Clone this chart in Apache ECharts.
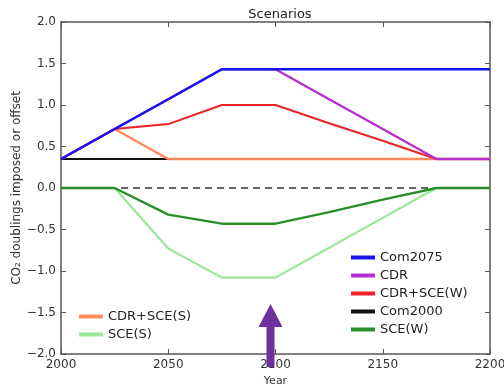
<!DOCTYPE html>
<html>
<head>
<meta charset="UTF-8">
<script src="https://cdn.jsdelivr.net/npm/echarts@6/dist/echarts.min.js"></script>
<style>
  body { margin: 0; background: #fff; }
  #root { width: 504px; height: 384px; }
</style>
</head>
<body>
<div id="root"></div>
<script>
var years = [2000, 2025, 2050, 2075, 2100, 2125, 2150, 2175, 2200];

var com2075 = [0.35, 0.71, 1.07, 1.43, 1.43, 1.43, 1.43, 1.43, 1.43];
var cdr = [0.35, 0.71, 1.07, 1.43, 1.43, 1.07, 0.71, 0.35, 0.35];
var cdrSceW = [0.35, 0.71, 0.77, 1.0, 1.0, 0.78, 0.57, 0.35, null];
var com2000 = [0.35, 0.35, 0.35, 0.35, 0.35, 0.35, 0.35, 0.35, 0.35];
var sceW = [0, 0, -0.32, -0.43, -0.43, -0.29, -0.14, 0, 0];
var cdrSceS = [0.35, 0.71, 0.35, 0.35, 0.35, 0.35, 0.35, 0.35, 0.35];
var sceS = [0, 0, -0.73, -1.08, -1.08, -0.72, -0.36, 0, 0];

function pairs(vals) {
    return years.map(function (y, i) { return [y, vals[i]]; });
}

function fmt(v) {
    return v.toFixed(1).replace('-', '\u2212');
}

function line(name, vals, color, w) {
    return {
        name: name,
        type: 'line',
        data: pairs(vals),
        showSymbol: false,
        connectNulls: false,
        color: color,
        lineStyle: { color: color, width: w || 2 },
        animation: false
    };
}

var chart = echarts.init(document.getElementById('root'));

var axisCol = '#555';
var font = 'DejaVu Sans';

function tickAxis(extra) {
    var base = {
        type: 'value',
        splitLine: { show: false },
        axisLine: { onZero: false, lineStyle: { color: axisCol, width: 1.5 } },
        axisTick: { inside: true, length: 5, lineStyle: { color: axisCol } },
        axisLabel: { show: false }
    };
    return Object.assign(base, extra);
}

chart.setOption({
    animation: false,
    title: {
        text: 'Scenarios',
        left: 275,
        textAlign: 'center',
        top: 3,
        textStyle: { fontFamily: font, fontSize: 13, fontWeight: 'normal', color: '#222' }
    },
    grid: { left: 61, right: 14, top: 22, bottom: 30, outerBoundsMode: 'none' },
    legend: [{
        data: ['Com2075', 'CDR', 'CDR+SCE(W)', 'Com2000', 'SCE(W)'],
        orient: 'vertical',
        left: 346,
        top: 246,
        icon: 'rect',
        itemWidth: 24,
        itemHeight: 4,
        itemGap: 5,
        textStyle: { fontFamily: font, fontSize: 13, color: '#222' }
    }, {
        data: ['CDR+SCE(S)', 'SCE(S)'],
        orient: 'vertical',
        left: 74,
        top: 305,
        icon: 'rect',
        itemWidth: 24,
        itemHeight: 4,
        itemGap: 5,
        textStyle: { fontFamily: font, fontSize: 13, color: '#222' }
    }],
    xAxis: [tickAxis({
        min: 2000,
        max: 2200,
        interval: 50,
        position: 'bottom',
        name: 'Year',
        nameLocation: 'middle',
        nameGap: 16,
        nameTextStyle: { fontFamily: font, fontSize: 11, color: '#333' },
        axisLabel: { fontFamily: font, fontSize: 12, color: '#333', margin: 5, formatter: String }
    }), tickAxis({
        position: 'top',
        min: 2000,
        max: 2200,
        interval: 50
    })],
    yAxis: [tickAxis({
        min: -2,
        max: 2,
        interval: 0.5,
        position: 'left',
        name: 'CO\u2082 doublings imposed or offset',
        nameLocation: 'middle',
        nameGap: 38,
        nameMoveOverlap: false,
        nameTextStyle: { fontFamily: font, fontSize: 12, color: '#333' },
        axisLabel: { fontFamily: font, fontSize: 12, color: '#333', margin: 5, formatter: fmt }
    }), tickAxis({
        position: 'right',
        min: -2,
        max: 2,
        interval: 0.5
    })],
    series: [
        line('Com2000', com2000, '#111111'),
        line('CDR+SCE(S)', cdrSceS, '#ff8a5c', 2.4),
        line('CDR+SCE(W)', cdrSceW, '#ee2222'),
        line('CDR', cdr, '#b82ed0', 2.4),
        line('Com2075', com2075, '#1515ee', 2.4),
        {
            name: 'zero',
            type: 'line',
            data: [[2000, 0], [2200, 0]],
            showSymbol: false,
            lineStyle: { color: '#333', width: 1.5, type: [7, 5] },
            animation: false
        },
        line('SCE(S)', sceS, '#98e898', 2.2),
        line('SCE(W)', sceW, '#2a8f2a', 2.4)
    ]
});

// purple annotation arrow pointing at 2100
var ax = chart.convertToPixel({ xAxisIndex: 0 }, 2100) - 5;
chart.setOption({
    graphic: [{
        type: 'polygon',
        z: 100,
        shape: {
            points: [
                [ax, 304], [ax + 12, 327], [ax + 4, 327], [ax + 4, 367],
                [ax - 4, 367], [ax - 4, 327], [ax - 12, 327]
            ]
        },
        style: { fill: '#7030a0' }
    }]
});
</script>
</body>
</html>
